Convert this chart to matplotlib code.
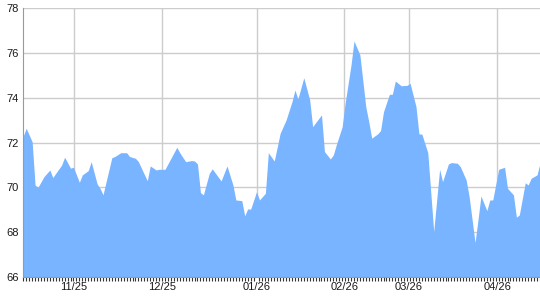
import matplotlib
matplotlib.use("Agg")
import matplotlib.pyplot as plt
import numpy as np

# vertices of the series: day index (x) and value (y)
day_index = [0, 1, 3, 4, 5, 7, 9, 10, 11, 13, 14, 16, 17, 19, 20, 22, 23, 25, 26, 27,
             30, 31, 33, 35, 36, 38, 39, 40, 42, 43, 45, 46, 48, 50, 52, 53, 55, 57, 58, 59,
             60, 61, 63, 64, 67, 69, 71, 72, 74, 75, 76, 77, 79, 80, 82, 83, 85, 87, 89, 91,
             92, 93, 95, 97, 98, 99, 101, 102, 104, 105, 106, 108, 109, 111, 112, 114, 116, 117, 118, 120,
             121, 122, 124, 125, 126, 128, 130, 131, 133, 134, 135, 137, 139, 141, 142, 144, 145, 147, 148, 150,
             151, 153, 154, 155, 157, 158, 159, 161, 163, 164, 166, 167, 168, 170, 171, 172, 174, 175]
values = [72.3, 72.64, 72.04, 70.1, 70.01, 70.48, 70.78, 70.44, 70.63, 71.0, 71.35, 70.86, 70.9, 70.23, 70.56, 70.75, 71.15, 70.16, 69.96, 69.67,
          71.33, 71.38, 71.55, 71.55, 71.38, 71.3, 71.15, 70.86, 70.3, 70.96, 70.78, 70.81, 70.81, 71.3, 71.79, 71.55, 71.15, 71.2, 71.18, 71.05,
          69.77, 69.67, 70.63, 70.83, 70.29, 70.96, 70.11, 69.44, 69.41, 68.73, 69.04, 69.03, 69.81, 69.44, 69.74, 71.55, 71.18, 72.42, 73.01, 73.83,
          74.35, 73.95, 74.9, 73.91, 72.71, 72.89, 73.24, 71.6, 71.27, 71.45, 71.9, 72.71, 73.76, 75.47, 76.54, 75.92, 73.6, 72.94, 72.2, 72.39,
          72.54, 73.38, 74.16, 74.16, 74.75, 74.54, 74.56, 74.65, 73.61, 72.39, 72.38, 71.55, 68.03, 70.81, 70.26, 71.05, 71.11, 71.08, 70.93, 70.33,
          69.59, 67.54, 68.55, 69.62, 68.96, 69.44, 69.44, 70.81, 70.9, 69.96, 69.67, 68.67, 68.77, 70.21, 70.11, 70.41, 70.56, 71.08]

n_days = 176
month_tick_idx = [17.2, 47.1, 79.0, 108.7, 130.5, 160.5]
month_labels = ["11/25", "12/25", "01/26", "02/26", "03/26", "04/26"]
y_ticks = [66, 68, 70, 72, 74, 76, 78]

plt.rcParams['font.family'] = ['Liberation Sans', 'DejaVu Sans']

fig = plt.figure(figsize=(5.4, 3.0), dpi=100)
ax = fig.add_axes([0.0431, 0.0767, 0.9569, 0.8956])

ax.fill_between(day_index, values, 66, color='#78b4ff', linewidth=0, zorder=2)

ax.set_xlim(0, n_days - 1)
ax.set_ylim(66, 78)

ax.set_yticks(y_ticks)
ax.set_yticklabels([str(v) for v in y_ticks], fontsize=8, color='#1a1a1a')
ax.tick_params(axis='y', length=0, pad=3)

ax.set_xticks(month_tick_idx)
ax.set_xticklabels(month_labels, fontsize=8, color='#1a1a1a')
ax.tick_params(axis='x', which='major', length=0, pad=3.5)
ax.set_xticks(np.arange(n_days), minor=True)
ax.tick_params(axis='x', which='minor', length=3, width=0.8, color='#333333', direction='out')

ax.grid(True, which='major', color='#cccccc', linewidth=1, zorder=0)
ax.set_axisbelow(True)

for s in ['top', 'right']:
    ax.spines[s].set_visible(False)
ax.spines['left'].set_color('#999999')
ax.spines['bottom'].set_color('#999999')
ax.spines['left'].set_zorder(3)
ax.spines['bottom'].set_zorder(3)

fig.savefig('out.png', dpi=100)
